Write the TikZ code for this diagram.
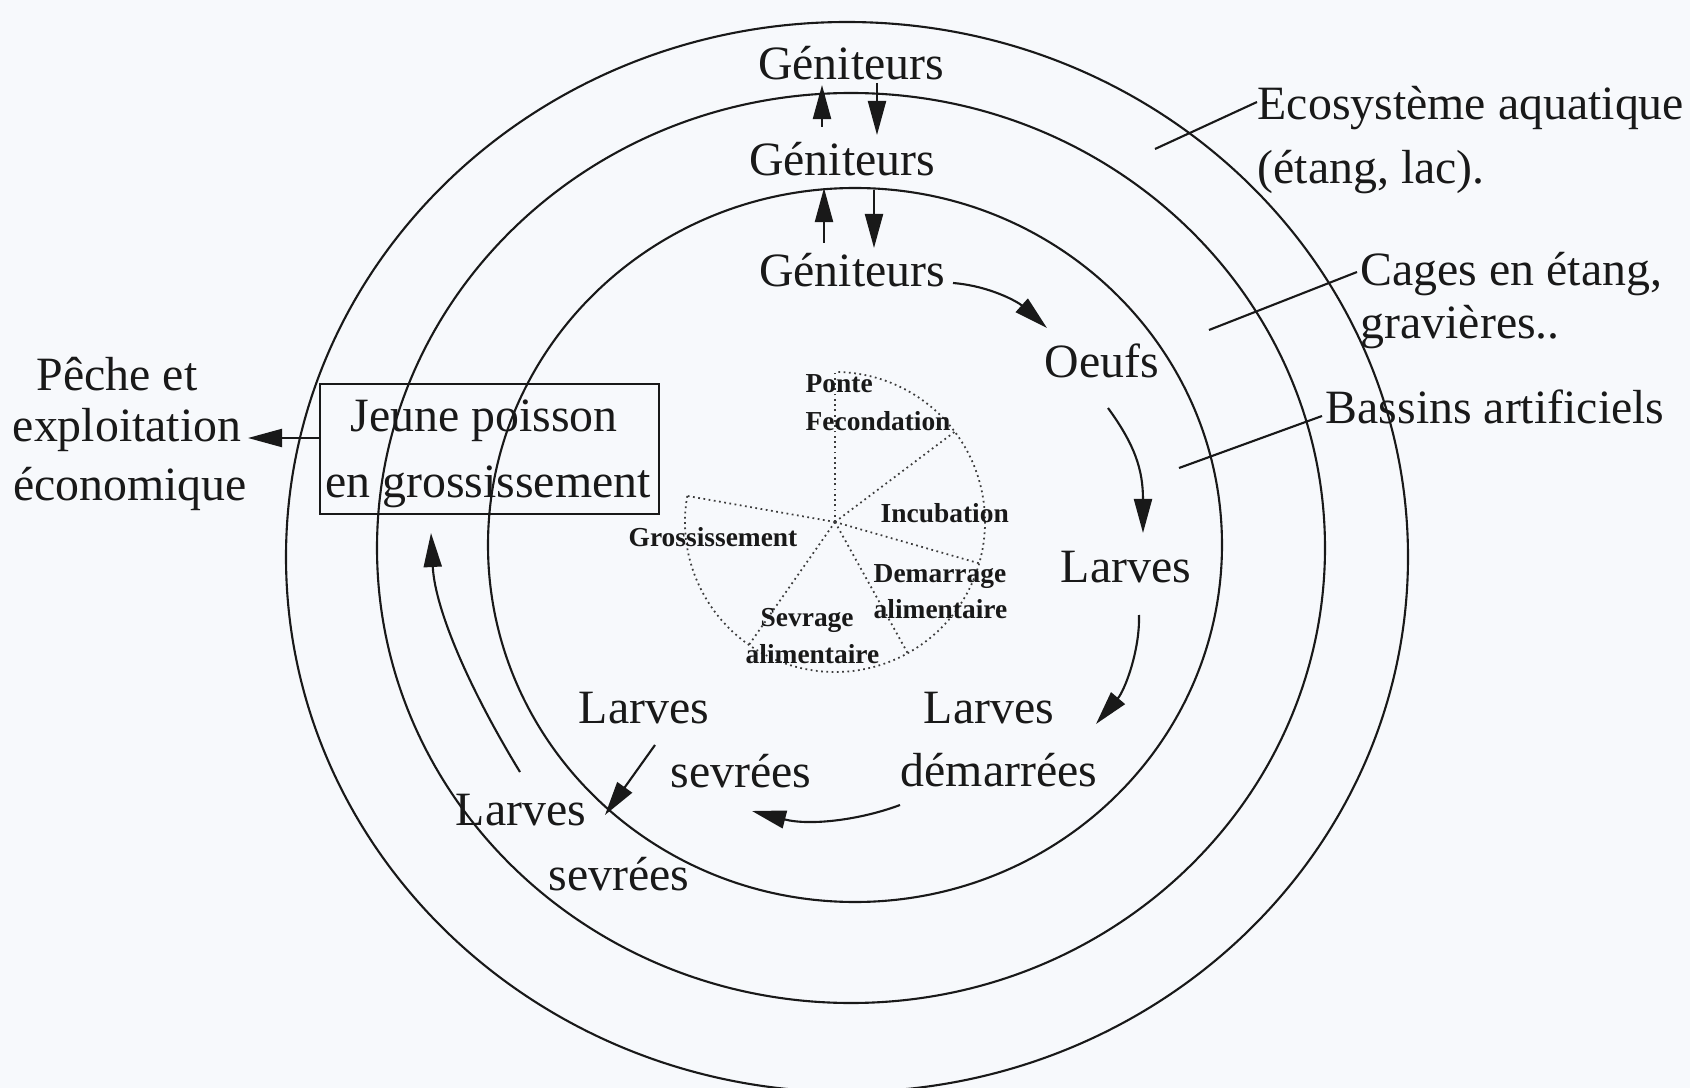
\documentclass[tikz,border=0pt]{standalone}
\usepackage{fontspec}
\setmainfont{Liberation Serif}
\usetikzlibrary{arrows.meta}
\definecolor{ink}{RGB}{25,25,25}
\definecolor{paper}{RGB}{247,249,252}
\begin{document}
\begin{tikzpicture}[x=0.01cm,y=-0.01cm,
  lbl/.style={inner sep=0pt, font=\fontsize{13.6}{16}\selectfont, text=ink},
  pielbl/.style={inner sep=0pt, font=\fontsize{7.8}{9}\selectfont\bfseries, text=ink},
  ring/.style={draw=ink, line width=0.6pt},
  arr/.style={draw=ink, line width=0.6pt, -{Triangle[length=0.34cm,width=0.18cm]}},
  lead/.style={draw=ink, line width=0.6pt},
  dots/.style={draw=ink!85, line width=0.5pt, densely dotted}]

\fill[paper] (0,0) rectangle (1690,1088);
\useasboundingbox (0,0) rectangle (1690,1088);

% concentric rings
\draw[ring] (855,545) ellipse [x radius=367, y radius=357];
\draw[ring] (851,548) ellipse [x radius=474, y radius=455];
\draw[ring] (847,557) ellipse [x radius=561, y radius=535];

% pie chart
\coordinate (pc) at (835,522);
\foreach \a in {-90,-37,16,61,125,-170} \draw[dots] (pc) -- ++(\a:150);
\draw[dots] ([shift={(-170:150)}]pc) arc[start angle=-170, end angle=-450, radius=150];
\node[pielbl, anchor=base west] (ponte) at (805,393) {Ponte};
\node[pielbl, anchor=base west] (fecond) at (805,430) {Fecondation};
\node[pielbl, anchor=base west] (incub) at (880,522) {Incubation};
\node[pielbl, anchor=base west] (demar1) at (873,582) {Demarrage};
\node[pielbl, anchor=base west] (demar2) at (873,618) {alimentaire};
\node[pielbl, anchor=base west] (sevr1) at (760,626) {Sevrage};
\node[pielbl, anchor=base west] (sevr2) at (745,663) {alimentaire};
\node[pielbl, anchor=base west] (gross) at (628,547) {Grossissement};

% main labels
\node[lbl, anchor=base] (gen1) at (851,80) {Géniteurs};
\node[lbl, anchor=base] (gen2) at (842,176) {Géniteurs};
\node[lbl, anchor=base] (gen3) at (852,287) {Géniteurs};
\node[lbl, anchor=base west] (eco1) at (1257,120) {Ecosystème aquatique};
\node[lbl, anchor=base west] (eco2) at (1257,184) {(étang, lac).};
\node[lbl, anchor=base west] (cage1) at (1360,286) {Cages en étang,};
\node[lbl, anchor=base west] (cage2) at (1360,338) {gravières..};
\node[lbl, anchor=base west] (bass) at (1325,423) {Bassins artificiels};
\node[lbl, anchor=base] (oeufs) at (1102,378) {Oeufs};
\node[lbl, anchor=base] (larv1) at (1126,582) {Larves};
\node[lbl, anchor=base] (larv2) at (989,723) {Larves};
\node[lbl, anchor=base] (dem) at (999,786) {démarrées};
\node[lbl, anchor=base] (larv3) at (644,723) {Larves};
\node[lbl, anchor=base] (sev3) at (741,787) {sevrées};
\node[lbl, anchor=base] (larv4) at (521,825) {Larves};
\node[lbl, anchor=base] (sev4) at (619,890) {sevrées};
\node[draw=ink, line width=0.6pt, minimum width=3.39cm, minimum height=1.30cm, inner sep=0pt] (box) at (489.5,449) {};
\node[lbl, anchor=base] (jp1) at (484,432) {Jeune poisson};
\node[lbl, anchor=base] (jp2) at (488,497) {en grossissement};
\node[lbl, anchor=base] (pe1) at (117,390) {Pêche et};
\node[lbl, anchor=base] (pe2) at (127,442) {exploitation};
\node[lbl, anchor=base] (pe3) at (130,500) {économique};

% leader lines
\coordinate (ecoA) at (1257,102); \coordinate (ecoB) at (1155,149);
\coordinate (cagA) at (1357,272); \coordinate (cagB) at (1209,330);
\coordinate (basA) at (1322,416); \coordinate (basB) at (1179,468);
\draw[lead] (ecoA) -- (ecoB);
\draw[lead] (cagA) -- (cagB);
\draw[lead] (basA) -- (basB);

% arrows between géniteurs
\coordinate (u1a) at (822,127); \coordinate (u1b) at (822,85);
\coordinate (d1a) at (877,83);  \coordinate (d1b) at (877,135);
\coordinate (u2a) at (824,243); \coordinate (u2b) at (824,188);
\coordinate (d2a) at (874,190); \coordinate (d2b) at (874,248);
\draw[arr] (u1a) -- (u1b);
\draw[arr] (d1a) -- (d1b);
\draw[arr] (u2a) -- (u2b);
\draw[arr] (d2a) -- (d2b);

% cycle arrows
\coordinate (c1a) at (953,283);  \coordinate (c1b) at (1047,328);
\coordinate (c2a) at (1108,408); \coordinate (c2b) at (1143,533);
\coordinate (c3a) at (1139,615); \coordinate (c3b) at (1096,724);
\coordinate (c4a) at (900,805);  \coordinate (c4b) at (752,811);
\coordinate (c5a) at (655,745);  \coordinate (c5b) at (605,815);
\coordinate (c6a) at (520,772);  \coordinate (c6b) at (431,533);
\coordinate (c7a) at (320,438);  \coordinate (c7b) at (248,438);
\draw[arr] (c1a) .. controls (990,286) and (1018,302) .. (c1b);
\draw[arr] (c2a) .. controls (1135,445) and (1143,470) .. (c2b);
\draw[arr] (c3a) .. controls (1140,650) and (1125,690) .. (c3b);
\draw[arr] (c4a) .. controls (860,820) and (810,826) .. (c4b);
\draw[arr] (c5a) -- (c5b);
\draw[arr] (c6a) .. controls (470,690) and (435,610) .. (c6b);
\draw[arr] (c7a) -- (c7b);
\end{tikzpicture}
\end{document}
